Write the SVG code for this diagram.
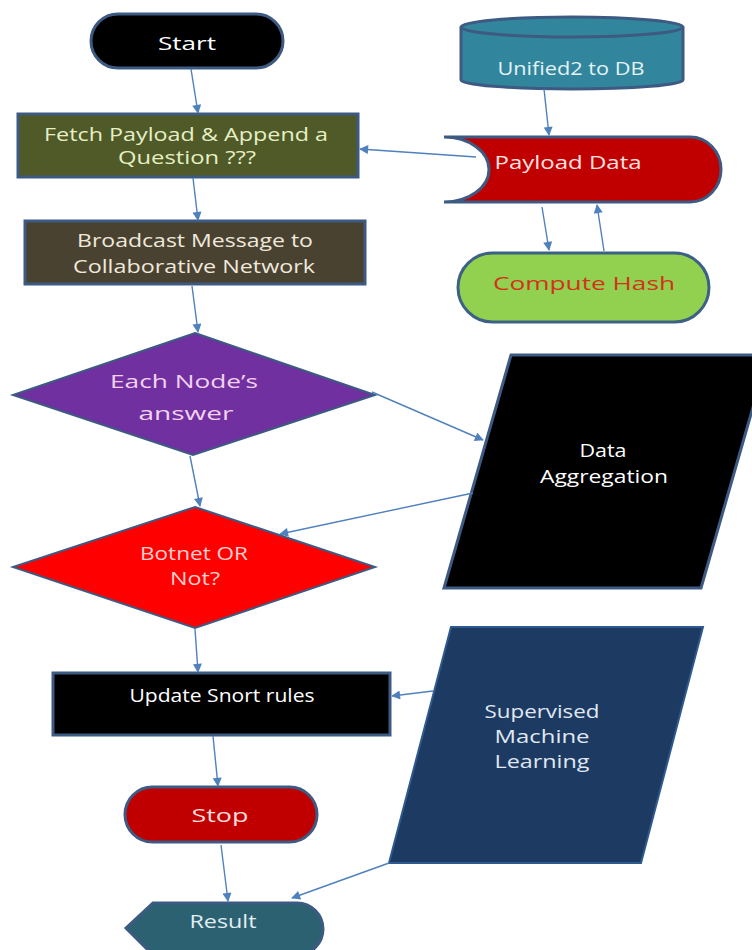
<svg xmlns="http://www.w3.org/2000/svg" width="752" height="950" viewBox="0 0 752 950">
<defs>
<marker id="ah" viewBox="0 0 10 10" refX="9" refY="5" markerWidth="10" markerHeight="9" markerUnits="userSpaceOnUse" orient="auto"><path d="M0,0 L10,5 L0,10 z" fill="#4f81bd"/></marker>
<style>
.t{font-family:"Open Sans","Liberation Sans",sans-serif;font-size:18px;font-weight:400;text-anchor:middle}
.sh{stroke:#3d5a82;stroke-width:3}
.c{fill:none;stroke:#4f81bd;stroke-width:1.4;marker-end:url(#ah)}
</style>
</defs>
<rect width="752" height="950" fill="#ffffff"/>
<g id="start"><rect class="sh" x="91" y="14" width="192" height="54" rx="27" fill="#000000"/><text class="t" x="187" y="50" fill="#ffffff" font-size="20" textLength="58" lengthAdjust="spacingAndGlyphs">Start</text></g>
<g id="fetch"><rect class="sh" x="18" y="114" width="340" height="63" fill="#4f5a28"/><text class="t" x="186" y="141" fill="#e6efc4" font-size="19" textLength="284" lengthAdjust="spacingAndGlyphs">Fetch Payload &amp; Append a</text><text class="t" x="187" y="164" fill="#e6efc4" font-size="19" textLength="138" lengthAdjust="spacingAndGlyphs">Question ???</text></g>
<g id="broadcast"><rect class="sh" x="25" y="221" width="340" height="63" fill="#4a4231"/><text class="t" x="195" y="247" fill="#efe9dc" font-size="19" textLength="236" lengthAdjust="spacingAndGlyphs">Broadcast Message to</text><text class="t" x="194" y="273" fill="#efe9dc" font-size="19" textLength="242" lengthAdjust="spacingAndGlyphs">Collaborative Network</text></g>
<g id="eachnode"><polygon points="195,333 375,395 193,455 13,395" fill="#7030a0" stroke="#3d5a82" stroke-width="2"/><text class="t" x="184" y="388" fill="#f2d2f0" textLength="148" lengthAdjust="spacingAndGlyphs">Each Node’s</text><text class="t" x="186" y="420" fill="#f2d2f0" textLength="95" lengthAdjust="spacingAndGlyphs">answer</text></g>
<g id="botnet"><polygon points="195,507 375,567 195,628 13,567" fill="#ff0000" stroke="#3d5a82" stroke-width="2"/><text class="t" x="194" y="560" fill="#ffd0d0" textLength="108" lengthAdjust="spacingAndGlyphs">Botnet OR</text><text class="t" x="195" y="585" fill="#ffd0d0" textLength="50" lengthAdjust="spacingAndGlyphs">Not?</text></g>
<g id="update"><rect class="sh" x="53" y="673" width="337" height="62" fill="#000000"/><text class="t" x="222" y="702" fill="#ffffff" textLength="185" lengthAdjust="spacingAndGlyphs">Update Snort rules</text></g>
<g id="stop"><rect class="sh" x="125" y="787" width="192" height="55" rx="27.5" fill="#c00000"/><text class="t" x="220" y="822" fill="#ffdede" font-size="20" textLength="57" lengthAdjust="spacingAndGlyphs">Stop</text></g>
<g id="result"><path class="sh" d="M126,928 L153,903 L297,903 A26,26 0 0 1 297,955 L153,955 Z" fill="#2c6172"/><text class="t" x="223" y="928" fill="#e2eef2" textLength="67" lengthAdjust="spacingAndGlyphs">Result</text></g>
<g id="unified"><path class="sh" d="M461,27 L461,80 A111,9 0 0 0 683,80 L683,27" fill="#31859c"/><ellipse class="sh" cx="572" cy="27" rx="111" ry="10" fill="#31859c"/><text class="t" x="571" y="75" fill="#e4f2f6" textLength="147" lengthAdjust="spacingAndGlyphs">Unified2 to DB</text></g>
<g id="payload"><path class="sh" d="M444,137 L690,137 A31,32.5 0 0 1 690,202 L444,202 A45,32.5 0 0 0 444,137 Z" fill="#c00000"/><text class="t" x="568" y="169" fill="#ffe2e2" textLength="147" lengthAdjust="spacingAndGlyphs">Payload Data</text></g>
<g id="hash"><rect x="458" y="253" width="251" height="69" rx="34.5" fill="#92d050" stroke="#3d6085" stroke-width="3"/><text class="t" x="584" y="290" fill="#d2321a" font-size="20" textLength="182" lengthAdjust="spacingAndGlyphs">Compute Hash</text></g>
<g id="aggregation"><polygon points="511,355 768,355 701,588 444,588" fill="#000000" stroke="#3d5a82" stroke-width="3"/><text class="t" x="603" y="457" fill="#ffffff" textLength="47" lengthAdjust="spacingAndGlyphs">Data</text><text class="t" x="604" y="483" fill="#ffffff" textLength="128" lengthAdjust="spacingAndGlyphs">Aggregation</text></g>
<g id="supervised"><polygon points="451,627 703,627 641,863 389,863" fill="#1c3a62" stroke="#2f5a8e" stroke-width="2"/><text class="t" x="542" y="718" fill="#e0e8f2" textLength="115" lengthAdjust="spacingAndGlyphs">Supervised</text><text class="t" x="542" y="743" fill="#e0e8f2" textLength="95" lengthAdjust="spacingAndGlyphs">Machine</text><text class="t" x="542" y="768" fill="#e0e8f2" textLength="95" lengthAdjust="spacingAndGlyphs">Learning</text></g>
<g id="connectors">
<line class="c" x1="191" y1="69" x2="198" y2="113"/>
<line class="c" x1="193" y1="178" x2="198" y2="220"/>
<line class="c" x1="192" y1="286" x2="198" y2="332"/>
<line class="c" x1="190" y1="456" x2="200" y2="506"/>
<line class="c" x1="195" y1="629" x2="198" y2="672"/>
<line class="c" x1="213" y1="736" x2="218" y2="786"/>
<line class="c" x1="221" y1="845" x2="228" y2="901"/>
<line class="c" x1="544" y1="89" x2="549" y2="135"/>
<line class="c" x1="476" y1="157" x2="360" y2="149"/>
<line class="c" x1="542" y1="207" x2="549" y2="250"/>
<line class="c" x1="604" y1="251" x2="597" y2="205"/>
<line class="c" x1="372" y1="392" x2="483" y2="440"/>
<line class="c" x1="473" y1="493" x2="280" y2="534"/>
<line class="c" x1="433" y1="691" x2="392" y2="696"/>
<line class="c" x1="389" y1="863" x2="292" y2="898"/>
</g>
</svg>
